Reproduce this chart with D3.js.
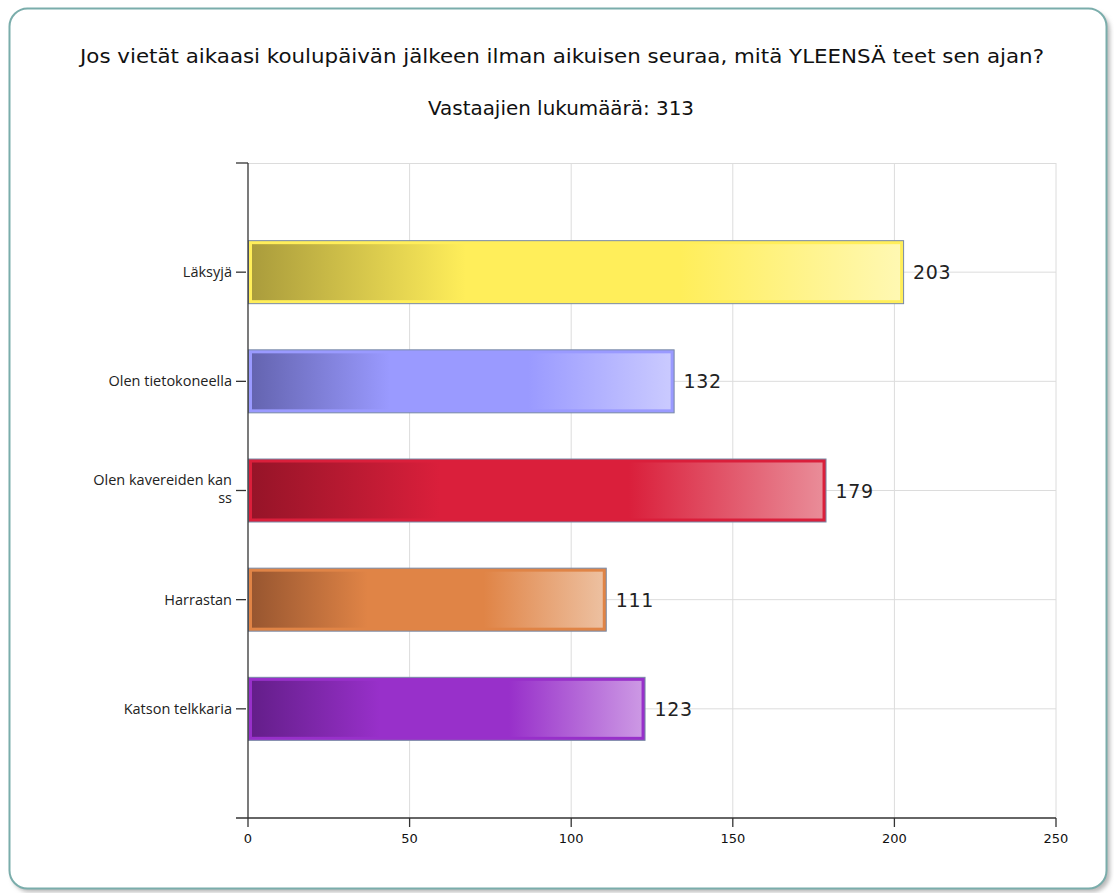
<!DOCTYPE html>
<html>
<head>
<meta charset="utf-8">
<script src="https://cdn.jsdelivr.net/npm/d3@7"></script>
<style>
  html, body { margin: 0; padding: 0; background: #ffffff; }
  svg { display: block; }
</style>
</head>
<body>
<svg id="chart" width="1114" height="893"></svg>
<script>
const titleText = "Jos vietät aikaasi koulupäivän jälkeen ilman aikuisen seuraa, mitä YLEENSÄ teet sen ajan?";
const subtitleText = "Vastaajien lukumäärä: 313";
const categories = ["Läksyjä", "Olen tietokoneella", "Olen kavereiden kan ss", "Harrastan", "Katson telkkaria"];
const categoryLines = [["Läksyjä"], ["Olen tietokoneella"], ["Olen kavereiden kan", "ss"], ["Harrastan"], ["Katson telkkaria"]];
const values = [203, 132, 179, 111, 123];
const xTicks = [0, 50, 100, 150, 200, 250];
const darkColors = ["#aa9c3c", "#6464b0", "#961428", "#985630", "#641e8a"];
const midColors = ["#ffee5a", "#9a9aff", "#da1f3b", "#e08446", "#9830ca"];
const lightColors = ["#fff8b2", "#cacaff", "#e98c98", "#edc0a0", "#cc98e4"];

const svg = d3.select("#chart");
const defs = svg.append("defs");

// frame shadow + frame
const shadow = defs.append("filter").attr("id", "shadow").attr("x", "-5%").attr("y", "-5%").attr("width", "110%").attr("height", "110%");
shadow.append("feGaussianBlur").attr("stdDeviation", 2);
svg.append("rect").attr("x", 12).attr("y", 12).attr("width", 1098).attr("height", 880)
  .attr("rx", 18).attr("fill", "#b8b8b8").attr("filter", "url(#shadow)");
svg.append("rect").attr("x", 9.5).attr("y", 8.5).attr("width", 1097).attr("height", 880)
  .attr("rx", 18).attr("fill", "#ffffff").attr("stroke", "#7aadab").attr("stroke-width", 2);

// titles
svg.append("text").attr("x", 562).attr("y", 63).attr("text-anchor", "middle")
  .attr("font-family", "DejaVu Sans, Verdana, sans-serif").attr("font-size", 20).attr("fill", "#111")
  .attr("textLength", 964).attr("lengthAdjust", "spacingAndGlyphs")
  .text(titleText);
svg.append("text").attr("x", 561).attr("y", 115).attr("text-anchor", "middle")
  .attr("font-family", "DejaVu Sans, Verdana, sans-serif").attr("font-size", 19).attr("fill", "#111")
  .attr("textLength", 266).attr("lengthAdjust", "spacingAndGlyphs")
  .text(subtitleText);

const pLeft = 248, pRight = 1056, pTop = 163, pBottom = 818;
const x = d3.scaleLinear().domain([0, 250]).range([pLeft, pRight]);
const y = d3.scalePoint().domain(categories).range([pTop, pBottom]).padding(1);
const barH = 64;

// grid
const g = svg.append("g");
g.selectAll("line.vg").data(xTicks.slice(1)).join("line")
  .attr("x1", d => x(d)).attr("x2", d => x(d)).attr("y1", pTop).attr("y2", pBottom)
  .attr("stroke", "#dcdcdc").attr("stroke-width", 1);
g.selectAll("line.hg").data(categories).join("line")
  .attr("x1", pLeft).attr("x2", pRight).attr("y1", d => y(d)).attr("y2", d => y(d))
  .attr("stroke", "#dcdcdc").attr("stroke-width", 1);
g.append("line").attr("x1", pLeft).attr("x2", pRight).attr("y1", pTop + 0.5).attr("y2", pTop + 0.5)
  .attr("stroke", "#dcdcdc");

// gradients
categories.forEach((c, i) => {
  const lg = defs.append("linearGradient").attr("id", "grad" + i)
    .attr("x1", "0%").attr("x2", "100%").attr("y1", "0%").attr("y2", "0%");
  lg.append("stop").attr("offset", "0%").attr("stop-color", darkColors[i]);
  lg.append("stop").attr("offset", "33%").attr("stop-color", midColors[i]);
  lg.append("stop").attr("offset", "66%").attr("stop-color", midColors[i]);
  lg.append("stop").attr("offset", "100%").attr("stop-color", lightColors[i]);
});

// bars
const bars = svg.append("g").selectAll("g").data(categories).join("g");
bars.append("rect")
  .attr("x", x(0) + 0.5).attr("y", d => y(d) - barH / 2 + 0.5)
  .attr("width", (d, i) => x(values[i]) - x(0) - 1).attr("height", barH - 1)
  .attr("fill", (d, i) => midColors[i]).attr("stroke", "#7889a6").attr("stroke-width", 1);
bars.append("rect")
  .attr("x", x(0) + 4).attr("y", d => y(d) - barH / 2 + 4)
  .attr("width", (d, i) => x(values[i]) - x(0) - 8).attr("height", barH - 8)
  .attr("fill", (d, i) => `url(#grad${i})`);
bars.append("text")
  .attr("x", (d, i) => x(values[i]) + 9).attr("y", d => y(d) + 7)
  .attr("font-family", "DejaVu Sans, Verdana, sans-serif").attr("font-size", 19).attr("fill", "#222")
  .attr("letter-spacing", 0.6)
  .text((d, i) => values[i]);

// axes
const axisG = svg.append("g").attr("stroke", "#333").attr("stroke-width", 1.3);
axisG.append("line").attr("x1", pLeft).attr("x2", pLeft).attr("y1", pTop).attr("y2", pBottom);
axisG.append("line").attr("x1", 236).attr("x2", pRight).attr("y1", pBottom).attr("y2", pBottom);
axisG.append("line").attr("x1", 236).attr("x2", pLeft).attr("y1", pTop).attr("y2", pTop);
axisG.selectAll("line.yt").data(categories).join("line")
  .attr("x1", 236).attr("x2", 246).attr("y1", d => y(d)).attr("y2", d => y(d));
axisG.selectAll("line.xt").data(xTicks).join("line")
  .attr("x1", d => x(d)).attr("x2", d => x(d)).attr("y1", pBottom).attr("y2", pBottom + 9);

svg.append("g").selectAll("text").data(xTicks).join("text")
  .attr("x", d => x(d)).attr("y", pBottom + 25).attr("text-anchor", "middle")
  .attr("font-family", "DejaVu Sans, Verdana, sans-serif").attr("font-size", 13).attr("fill", "#111")
  .text(d => d);

const labelG = svg.append("g")
  .attr("font-family", "Open Sans, Noto Sans, sans-serif").attr("font-size", 14.5).attr("fill", "#222")
  .attr("text-anchor", "end");
categories.forEach((d, i) => {
  const lines = categoryLines[i];
  const y0 = y(d) + 5 - (lines.length - 1) * 11;
  lines.forEach((ln, k) => {
    labelG.append("text").attr("x", 232).attr("y", y0 + k * 18).text(ln);
  });
});
</script>
</body>
</html>
